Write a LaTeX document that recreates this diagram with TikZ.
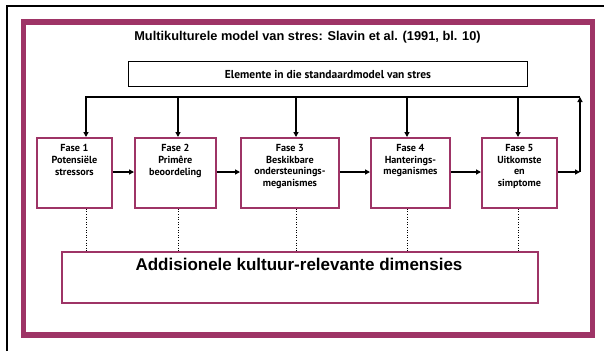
\documentclass[tikz,border=0pt]{standalone}
\usepackage{fontspec}
\setmainfont{Liberation Sans}
\newfontfamily\boxfont{PT Sans}
\usetikzlibrary{arrows.meta}
\definecolor{plum}{RGB}{158,52,102}
\tikzset{
  x=1pt, y=-1pt,
  fasebox/.style={draw=plum, line width=1.8pt, inner sep=0pt, anchor=north west},
  fasetext/.style={anchor=north, align=center, inner sep=0pt, font=\boxfont\bfseries\fontsize{10.2}{11.8}\selectfont},
  arr/.style={line width=1.6pt, -{Triangle[length=5pt,width=5pt]}},
  plain/.style={line width=1.3pt},
  dots/.style={line width=0.6pt, dotted}
}
\begin{document}
\begin{tikzpicture}
\useasboundingbox (0,0) rectangle (604,351);
\fill[white] (0,0) rectangle (604,351);
% outer black frame
\draw[line width=1.2pt] (7,351) -- (7,6) -- (604,6);
% purple frame
\draw[plum, line width=5.5pt] (23.5,22) rectangle (592.5,335);
% title
\node[font=\bfseries\fontsize{12.8}{14}\selectfont, inner sep=0pt] (title) at (307.5,37) {Multikulturele model van stres: Slavin et al. (1991, bl. 10)};
% Elemente box
\node[draw, line width=1pt, minimum width=399pt, minimum height=25pt, inner sep=0pt, anchor=north west,
      font=\boxfont\bfseries\fontsize{11.5}{12}\selectfont] (elem) at (128,61) {Elemente in die standaardmodel van stres};
% phase boxes
\node[fasebox, minimum width=75pt, minimum height=70pt] (f1) at (36,137) {};
\node[fasebox, minimum width=81pt, minimum height=70pt] (f2) at (134,137) {};
\node[fasebox, minimum width=98pt, minimum height=70pt] (f3) at (240,137) {};
\node[fasebox, minimum width=79pt, minimum height=70pt] (f4) at (370,137) {};
\node[fasebox, minimum width=75pt, minimum height=70pt] (f5) at (481,137) {};
\node[fasetext] (t1) at ([yshift=-7pt]f1.north) {Fase 1\\Potensiële\\stressors};
\node[fasetext] (t2) at ([yshift=-7pt]f2.north) {Fase 2\\Primêre\\beoordeling};
\node[fasetext] (t3) at ([yshift=-7pt]f3.north) {Fase 3\\Beskikbare\\ondersteunings-\\meganismes};
\node[fasetext] (t4) at ([yshift=-7pt]f4.north) {Fase 4\\Hanterings-\\meganismes};
\node[fasetext] (t5) at ([yshift=-7pt]f5.north) {Fase 5\\Uitkomste\\en\\simptome};
% additional box
\node[draw=plum, line width=1.8pt, minimum width=476pt, minimum height=51pt, inner sep=0pt, anchor=north west] (add) at (61,251) {};
\node[font=\bfseries\fontsize{17}{19}\selectfont, inner sep=0pt] (addt) at (299,264) {Addisionele kultuur-relevante dimensies};
% top distribution line
\coordinate (c1) at (86,97);
\coordinate (c2) at (178,97);
\coordinate (c3) at (296,97);
\coordinate (c4) at (407,97);
\coordinate (c5) at (518,97);
\coordinate (ce) at (580,97);
\coordinate (cr) at (580,172);
\draw[plain] ([xshift=-0.6pt]c1) -- (ce);
\foreach \i in {1,...,5} {
  \draw[arr] (c\i) -- (c\i |- f\i.north);
  \draw[dots] (c\i |- f\i.south) -- (c\i |- add.north);
}
% horizontal arrows
\draw[arr] (f1.east |- cr) -- (f2.west |- cr);
\draw[arr] (f2.east |- cr) -- (f3.west |- cr);
\draw[arr] (f3.east |- cr) -- (f4.west |- cr);
\draw[arr] (f4.east |- cr) -- (f5.west |- cr);
\draw[arr] (f5.east |- cr) -- (cr);
\draw[arr] (cr) -- (ce);
\end{tikzpicture}
\end{document}
